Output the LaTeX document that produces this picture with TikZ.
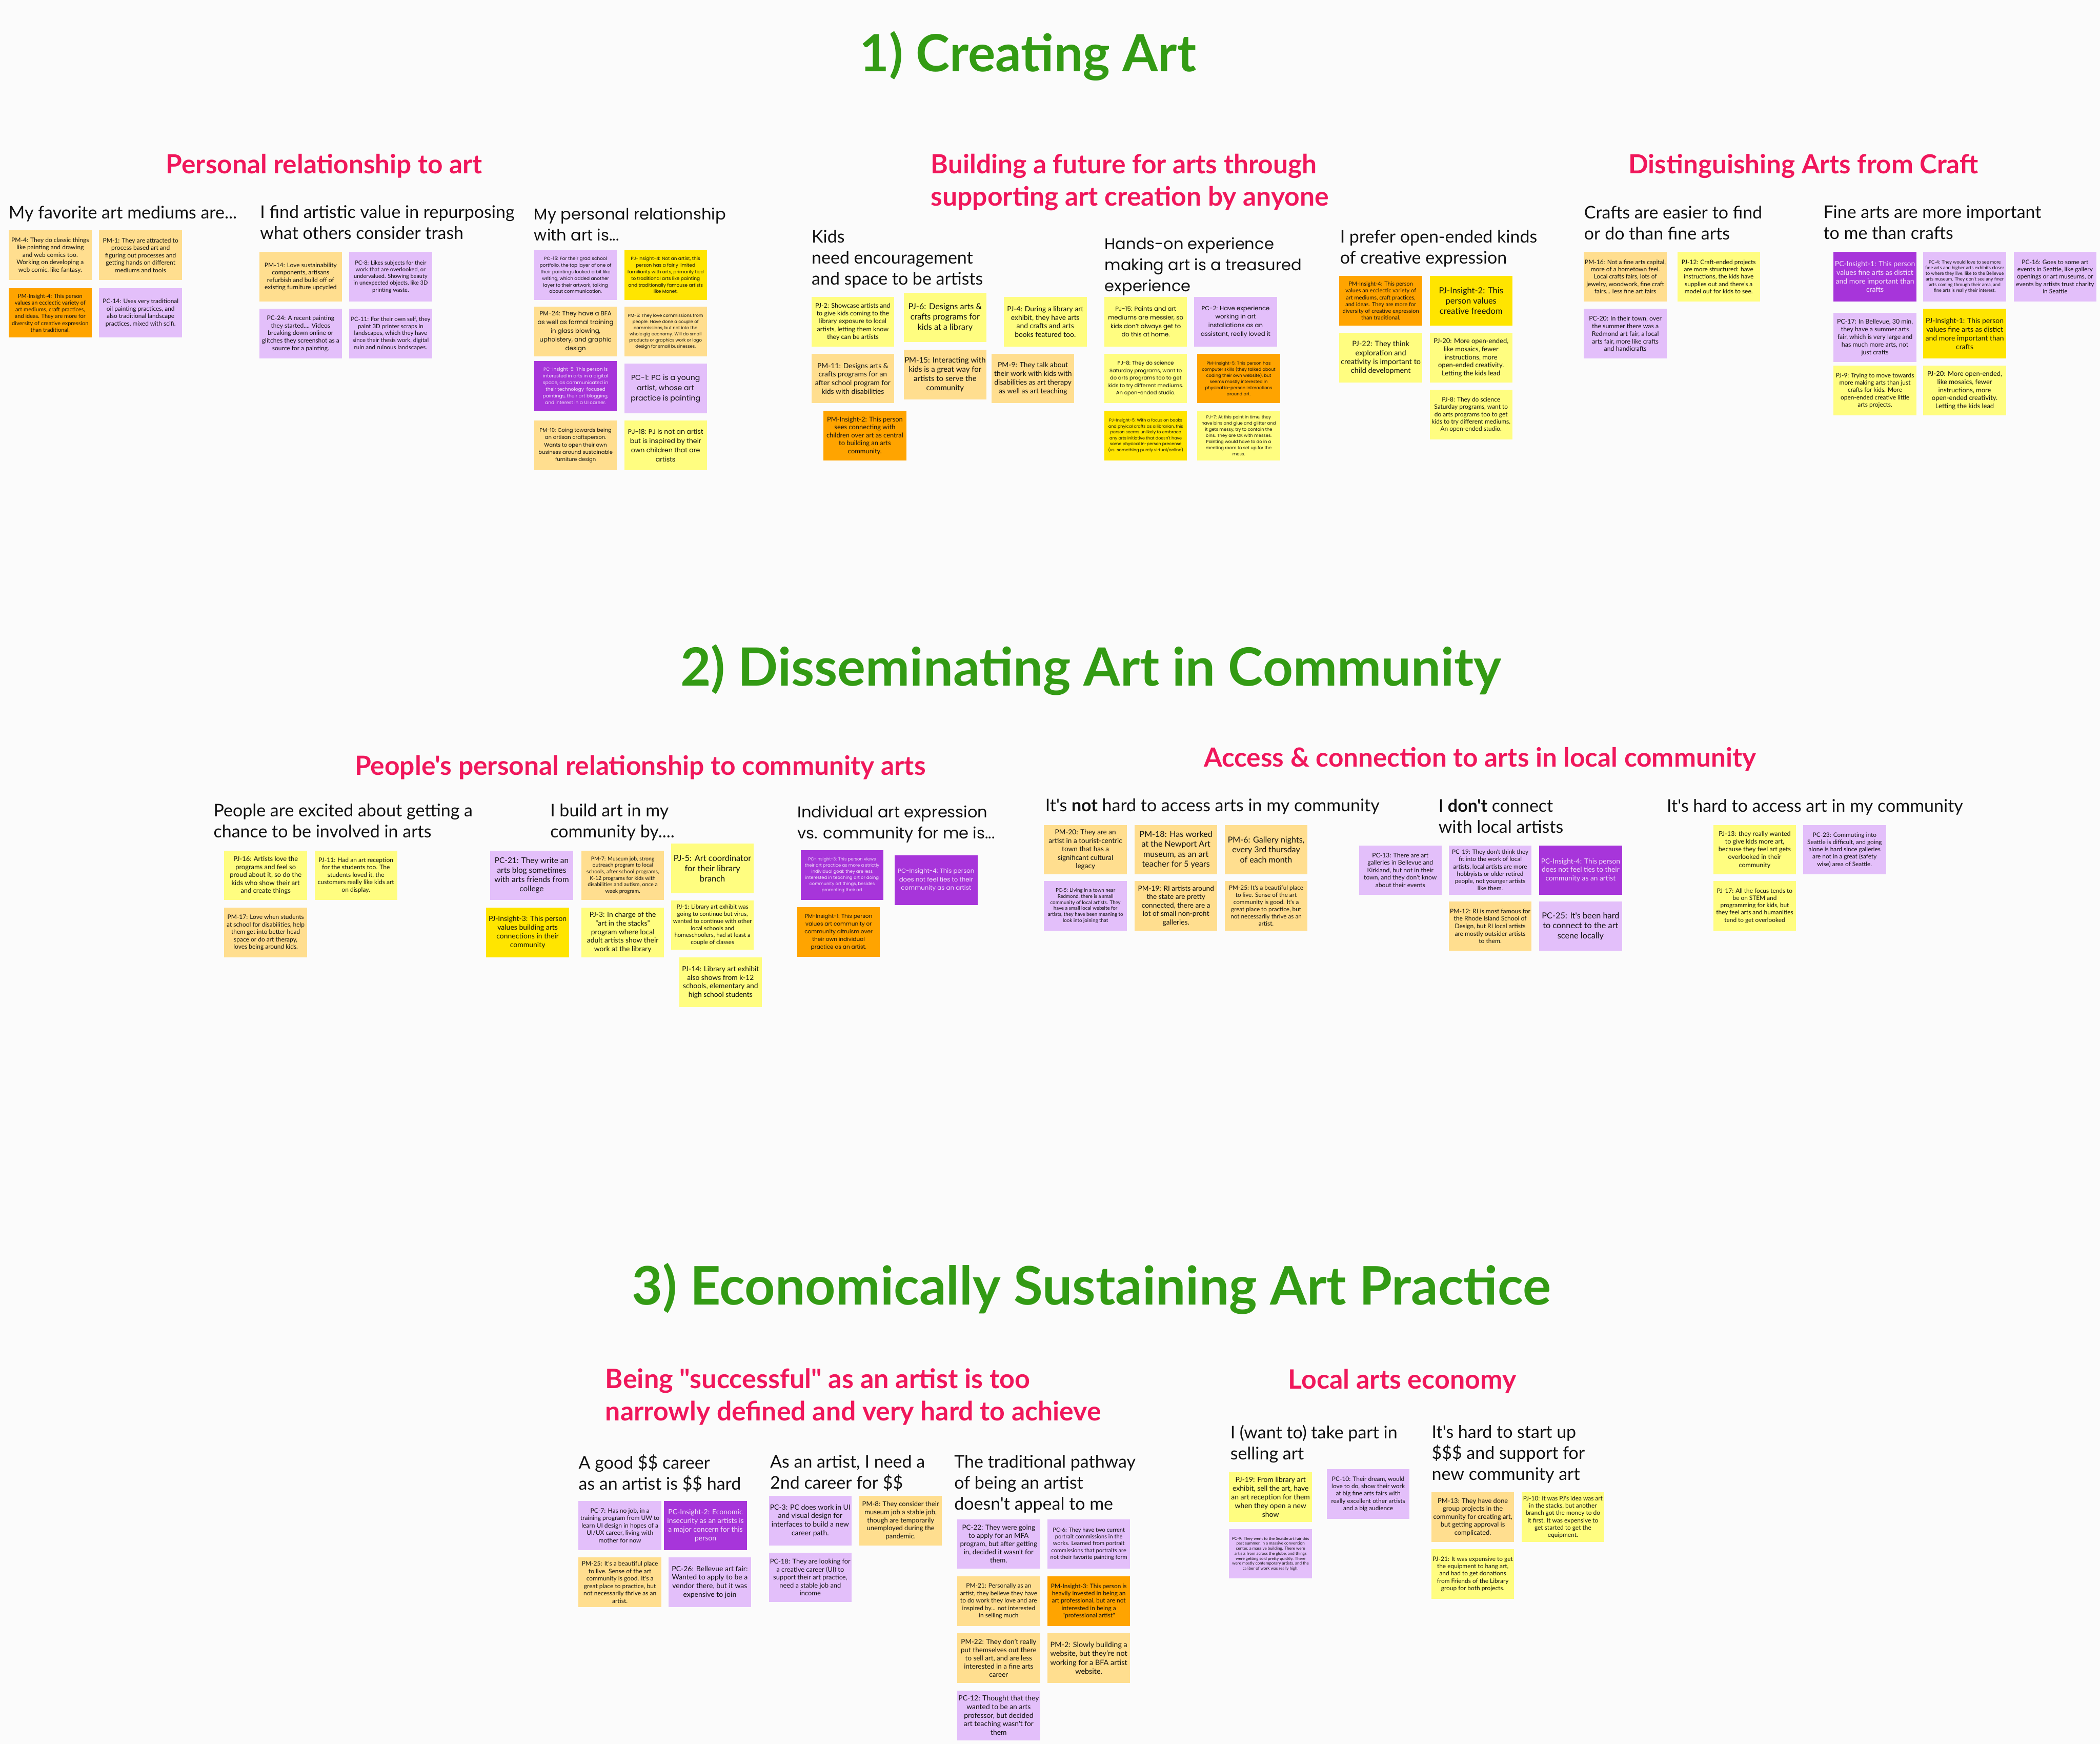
\documentclass[tikz,border=0pt]{standalone}
\usepackage{fontspec}
\usepackage{graphicx}
\setmainfont{Lato}[Ligatures=TeXOff]
\newfontfamily\poppins{Poppins}[Ligatures=TeXOff]
\definecolor{cbg}{HTML}{FBFBFB}
\definecolor{cpm}{HTML}{FFDE8F}
\definecolor{cpj}{HTML}{FFFD80}
\definecolor{cpc}{HTML}{E3BFFA}
\definecolor{cpmi}{HTML}{FFA400}
\definecolor{cpji}{HTML}{FFE500}
\definecolor{cpci}{HTML}{A735DA}
\definecolor{cptxt}{HTML}{F3E3FA}
\definecolor{cgreen}{HTML}{339B14}
\definecolor{cred}{HTML}{F0175B}
\definecolor{ctxt}{HTML}{111111}
\newcommand{\fl}[1]{\fontsize{\dimexpr #1mm*83/100\relax}{#1mm}\selectfont}
\newcommand{\fpp}[1]{\poppins\fontsize{\dimexpr #1mm*70/100\relax}{#1mm}\selectfont}
\tikzset{
  stk/.style={anchor=north west, minimum width=61.8mm, minimum height=37mm, inner sep=0.4mm, align=center, text=ctxt},
  pm/.style={stk, fill=cpm},
  pj/.style={stk, fill=cpj},
  pc/.style={stk, fill=cpc},
  pmi/.style={stk, fill=cpmi},
  pji/.style={stk, fill=cpji},
  pci/.style={stk, fill=cpci, text=cptxt},
  hd/.style={anchor=north west, inner sep=0, align=left, text=ctxt, font=\fontsize{13mm}{15.7mm}\selectfont},
  hdp/.style={anchor=north west, inner sep=0, align=left, text=ctxt, font=\poppins\fontsize{11.7mm}{15.7mm}\selectfont},
  ttl/.style={inner sep=0, text=cgreen, font=\bfseries},
  subt/.style={inner sep=0, text=cred, font=\bfseries}
}
\begin{document}
\begin{tikzpicture}[x=1mm, y=-1mm]
\fill[cbg] (0,0) rectangle (1568,1301.8);
\useasboundingbox (0,0) rectangle (1568,1301.8);

% ---------------- Titles ----------------
\node[ttl] (T1) at (767.5,42) {\resizebox{251mm}{!}{1) Creating Art}};
\node[ttl] (T2) at (814.5,500) {\resizebox{613mm}{!}{2) Disseminating Art in Community}};
\node[ttl] (T3) at (815,962) {\resizebox{686mm}{!}{3) Economically Sustaining Art Practice}};

% ---------------- Subtitles ----------------
\node[subt] (S1) at (242,124) {\resizebox{236mm}{!}{Personal relationship to art}};
\node[subt, anchor=west] (S2a) at (695,124) {\resizebox{288mm}{!}{Building a future for arts through}};
\node[subt, anchor=west] (S2b) at (695,148) {\resizebox{297mm}{!}{supporting art creation by anyone}};
\node[subt] (S3) at (1346.5,124) {\resizebox{261mm}{!}{Distinguishing Arts from Craft}};
\node[subt] (S4) at (478,573) {\resizebox{426mm}{!}{People's personal relationship to community arts}};
\node[subt] (S5) at (1105,567) {\resizebox{412mm}{!}{Access \& connection to arts in local community}};
\node[subt, anchor=west] (S6a) at (452,1031) {\resizebox{317mm}{!}{Being "successful" as an artist is too}};
\node[subt, anchor=west] (S6b) at (452,1055) {\resizebox{370mm}{!}{narrowly defined and very hard to achieve}};
\node[subt] (S7) at (1047,1031) {\resizebox{170mm}{!}{Local arts economy}};

% ---------------- Headings ----------------
\node[hd] (H1) at (6.4,153.8) {My favorite art mediums are...};
\node[hd] (H2) at (194.2,153.4) {I find artistic value in repurposing\\what others consider trash};
\node[hdp] (H3) at (398.8,155) {My personal relationship\\with art is...};
\node[hd] (H4) at (606,171.5) {Kids\\need encouragement\\and space to be artists};
\node[hdp] (H5) at (824.8,177.1) {Hands-on experience\\making art is a treasured\\experience};
\node[hd] (H6) at (1000.5,171.5) {I prefer open-ended kinds\\of creative expression};
\node[hd] (H7) at (1182.8,153.5) {Crafts are easier to find\\or do than fine arts};
\node[hd] (H8) at (1361.4,153.5) {Fine arts are more important\\to me than crafts};
\node[hd] (H9) at (159.4,599.8) {People are excited about getting a\\chance to be involved in arts};
\node[hd] (H10) at (410.8,599.8) {I build art in my\\community by....};
\node[hdp] (H11) at (595.4,601.3) {Individual art expression\\vs. community for me is...};
\node[hd] (H12) at (780.4,596.2) {It's \textbf{not} hard to access arts in my community};
\node[hd] (H13) at (1074,596.5) {I \textbf{don't} connect\\with local artists};
\node[hd] (H14) at (1244.5,596.5) {It's hard to access art in my community};
\node[hd] (H15) at (432,1086) {A good \$\$ career\\as an artist is \$\$ hard};
\node[hd] (H16) at (575,1086) {As an artist, I need a\\2nd career for \$\$};
\node[hd] (H17) at (712.5,1086) {The traditional pathway\\of being an artist\\doesn't appeal to me};
\node[hd] (H18) at (918.6,1063.9) {I (want to) take part in\\selling art};
\node[hd] (H19) at (1069,1063.9) {It's hard to start up\\\$\$\$ and support for\\new community art};

% ---------------- Section 1 notes ----------------
\node[pm, font=\fl{5.54}] (n101) at (6.5,172) {PM-4: They do classic things\\like painting and drawing\\and web comics too.\\Working on developing a\\web comic, like fantasy.};
\node[pm, font=\fl{5.54}] (n102) at (74,172) {PM-1: They are attracted to\\process based art and\\figuring out processes and\\getting hands on different\\mediums and tools};
\node[pmi, font=\fl{5.07}] (n103) at (6.5,215) {PM-Insight-4: This person\\values an ecclectic variety of\\art mediums, craft practices,\\and ideas. They are more for\\diversity of creative expression\\than traditional.};
\node[pc, font=\fl{5.5}] (n104) at (74,215) {PC-14: Uses very traditional\\oil painting practices, and\\also traditional landscape\\practices, mixed with scifi.};
\node[pm, font=\fl{5.56}] (n105) at (193.5,188) {PM-14:  Love sustainability\\components, artisans\\refurbish and build off of\\existing furniture upcycled};
\node[pc, font=\fl{5.07}] (n106) at (260.7,188) {PC-8: Likes subjects for their\\work that are overlooked, or\\undervalued. Showing beauty\\in unexpected objects, like 3D\\printing waste.};
\node[pc, font=\fl{5.56}] (n107) at (193.5,230.5) {PC-24: A recent painting\\they started.... Videos\\breaking down online or\\glitches they screenshot as a\\source for a painting.};
\node[pc, font=\fl{5.3}] (n108) at (260.7,230.5) {PC-11: For their own self, they\\paint 3D printer scraps in\\landscapes, which they have\\since their thesis work, digital\\ruin and ruinous landscapes.};

\node[pc, font=\fpp{4.9}] (n109) at (398.8,186.8) {PC-15: For their grad school\\portfolio, the top layer of one of\\their paintings looked a bit like\\writing, which added another\\layer to their artwork, talking\\about communication.};
\node[pji, font=\fpp{4.9}] (n110) at (466,186.8) {PJ-Insight-4: Not an artist, this\\person has a fairly limited\\familiarity with arts, primarily tied\\to traditional arts like painting\\and traditionally famouse artists\\like Monet.};
\node[pm, font=\fpp{6.45}] (n111) at (398.8,229) {PM-24: They have a BFA\\as well as formal training\\in glass blowing,\\upholstery, and graphic\\design};
\node[pm, font=\fpp{4.6}] (n112) at (466,229) {PM-5: They love commissions from\\people. Have done a couple of\\commissions, but not into the\\whole gig economy. Will do small\\products or graphics work or logo\\design for small businesses.};
\node[pci, font=\fpp{5.0}] (n113) at (398.8,269.5) {PC-Insight-5: This person is\\interested in arts in a digital\\space, as communicated in\\their technology-focused\\paintings, their art blogging,\\and interest in a UI career.};
\node[pc, font=\fpp{7.7}] (n114) at (466,271.5) {PC-1: PC is a young\\artist, whose art\\practice is painting};
\node[pm, font=\fpp{5.5}] (n115) at (398.8,314) {PM-10: Going towards being\\an artisan craftsperson.\\Wants to open their own\\business around sustainable\\furniture design};
\node[pj, font=\fpp{6.9}] (n116) at (466,314) {PJ-18: PJ is not an artist\\but is inspired by their\\own children that are\\artists};

\node[pj, font=\fl{5.78}] (n117) at (605.8,221.6) {PJ-2: Showcase artists and\\to give kids coming to the\\library exposure to local\\artists, letting them know\\they can be artists};
\node[pj, font=\fl{7.5}] (n118) at (674.7,218.4) {PJ-6: Designs arts \&\\crafts programs for\\kids at a library};
\node[pj, font=\fl{6.4}] (n119) at (749.5,221.6) {PJ-4: During a library art\\exhibit, they have arts\\and crafts and arts\\books featured too.};
\node[pm, font=\fl{6.4}] (n120) at (605.8,264) {PM-11: Designs arts \&\\crafts programs for an\\after school program for\\kids with disabilities};
\node[pm, font=\fl{6.9}] (n121) at (674.7,261) {PM-15: Interacting with\\kids is a great way for\\artists to serve the\\community};
\node[pm, font=\fl{6.4}] (n122) at (740.3,264) {PM-9: They talk about\\their work with kids with\\disabilities as art therapy\\as well as art teaching};
\node[pmi, font=\fl{5.95}] (n123) at (614.8,306.7) {PM-Insight-2: This person\\sees connecting with\\children over art as central\\to building an arts\\community.};

\node[pj, font=\fpp{6.4}] (n124) at (824.5,221.6) {PJ-15: Paints and art\\mediums are messier, so\\kids don’t always get to\\do this at home.};
\node[pc, font=\fpp{6.4}] (n125) at (891.6,221.6) {PC-2: Have experience\\working in art\\installations as an\\assistant, really loved it};
\node[pj, font=\fpp{5.5}] (n126) at (824.5,264) {PJ-8: They do science\\Saturday programs, want to\\do arts programs too to get\\kids to try different mediums.\\An open-ended studio.};
\node[pmi, font=\fpp{4.6}] (n127) at (893.9,264) {PM-Insight-5: This person has\\computer skills (they talked about\\coding their own website), but\\seems mostly interested in\\physical in-person interactions\\around art.};
\node[pji, font=\fpp{4.4}] (n128) at (824.5,306.7) {PJ-Insight-5: With a focus on books\\and phyical crafts as a librarian, this\\person seems unlikely to embrace\\any arts initiative that doesn't have\\some physical in-person precense\\(vs. something purely virtual/online)};
\node[pj, font=\fpp{4.6}] (n129) at (893.9,306.7) {PJ-7: At this point in time, they\\have bins and glue and glitter and\\it gets messy, try to contain the\\bins. They are OK with messes.\\Painting would have to do in a\\meeting room to set up for the\\mess.};

\node[pmi, font=\fl{5.06}] (n130) at (1000,206) {PM-Insight-4: This person\\values an ecclectic variety of\\art mediums, craft practices,\\and ideas. They are more for\\diversity of creative expression\\than traditional.};
\node[pji, font=\fl{7.6}] (n131) at (1067.4,206) {PJ-Insight-2: This\\person values\\creative freedom};
\node[pj, font=\fl{6.67}] (n132) at (1000,248.5) {PJ-22: They think\\exploration and\\creativity is important to\\child development};
\node[pj, font=\fl{6.0}] (n133) at (1067.4,248.5) {PJ-20: More open-ended,\\like mosaics, fewer\\instructions, more\\open-ended creativity.\\Letting the kids lead};
\node[pj, font=\fl{5.5}] (n134) at (1067.4,291) {PJ-8: They do science\\Saturday programs, want to\\do arts programs too to get\\kids to try different mediums.\\An open-ended studio.};

\node[pm, font=\fl{5.5}] (n135) at (1182.6,188) {PM-16: Not a fine arts capital,\\more of a hometown feel.\\Local crafts fairs, lots of\\jewelry, woodwork, fine craft\\fairs... less fine art fairs};
\node[pj, font=\fl{5.5}] (n136) at (1252.3,188) {PJ-12: Craft-ended projects\\are more structured: have\\instructions, the kids have\\supplies out and there’s a\\model out for kids to see.};
\node[pc, font=\fl{5.7}] (n137) at (1182.6,230.5) {PC-20: In their town, over\\the summer there was a\\Redmond art fair, a local\\arts fair, more like crafts\\and handicrafts};
\node[pci, font=\fl{6.45}] (n138) at (1369,188) {PC-Insight-1: This person\\values fine arts as distict\\and more important than\\crafts};
\node[pc, font=\fl{4.2}] (n139) at (1436,188) {PC-4: They would love to see more\\fine arts and higher arts exhibits closer\\to where they live, like to the Bellevue\\arts museum. They don't see any finer\\arts coming through their area, and\\fine arts is really their interest.};
\node[pc, font=\fl{5.5}] (n140) at (1503.5,188) {PC-16: Goes to some art\\events in Seattle, like gallery\\openings or art museums, or\\events by artists trust charity\\in Seattle};
\node[pc, font=\fl{5.7}] (n141) at (1369,233.3) {PC-17: In Bellevue, 30 min,\\they have a summer arts\\fair, which is very large and\\has much more arts, not\\just crafts};
\node[pji, font=\fl{6.45}] (n142) at (1436,230.5) {PJ-Insight-1: This person\\values fine arts as distict\\and more important than\\crafts};
\node[pj, font=\fl{5.5}] (n143) at (1369,273) {PJ-9: Trying to move towards\\more making arts than just\\crafts for kids. More\\open-ended creative little\\arts projects.};
\node[pj, font=\fl{6.0}] (n144) at (1436,273) {PJ-20: More open-ended,\\like mosaics, fewer\\instructions, more\\open-ended creativity.\\Letting the kids lead};

% ---------------- Section 2 notes ----------------
\node[pj, font=\fl{5.97}] (n201) at (167.4,634.9) {PJ-16: Artists love the\\programs and feel so\\proud about it, so do the\\kids who show their art\\and create things};
\node[pj, font=\fl{5.56}] (n202) at (234.8,634.9) {PJ-11: Had an art reception\\for the students too. The\\students loved it, the\\customers really like kids art\\on display.};
\node[pm, font=\fl{5.53}] (n203) at (167.4,677.5) {PM-17: Love when students\\at school for disabilities, help\\them get into better head\\space or do art therapy,\\loves being around kids.};
\node[pc, font=\fl{7.07}] (n204) at (366,634.9) {PC-21: They write an\\arts blog sometimes\\with arts friends from\\college};
\node[pm, font=\fl{4.84}] (n205) at (434,634.9) {PM-7: Museum job, strong\\outreach program to local\\schools, after school programs,\\K-12 programs for kids with\\disabilities and autism, once a\\week program.};
\node[pj, font=\fl{7.57}] (n206) at (501,629.7) {PJ-5: Art coordinator\\for their library\\branch};
\node[pji, font=\fl{6.46}] (n207) at (363,677.5) {PJ-Insight-3: This person\\values building arts\\connections in their\\community};
\node[pj, font=\fl{6.39}] (n208) at (434,677.5) {PJ-3: In charge of the\\“art in the stacks”\\program where local\\adult artists show their\\work at the library};
\node[pj, font=\fl{5.3}] (n209) at (501,672) {PJ-1: Library art exhibit was\\going to continue but virus,\\wanted to continue with other\\local schools and\\homeschoolers, had at least a\\couple of classes};
\node[pj, font=\fl{6.4}] (n210) at (507,714.8) {PJ-14: Library art exhibit\\also shows from k-12\\schools, elementary and\\high school students};

\node[pci, font=\fpp{4.6}] (n211) at (597.8,634.6) {PC-Insight-3: This person views\\their art practice as more a strictly\\individual goal: they are less\\interested in teaching art or doing\\community art things, besides\\promoting their art};
\node[pci, font=\fpp{6.44}] (n212) at (668,638.4) {PC-Insight-4: This person\\does not feel ties to their\\community as an artist};
\node[pmi, font=\fpp{5.77}] (n213) at (595.2,677.3) {PM-Insight-1: This person\\values art community or\\community altruism over\\their own individual\\practice as an artist.};

\node[pm, font=\fl{6.26}] (n214) at (779.5,615.7) {PM-20: They are an\\artist in a tourist-centric\\town that has a\\significant cultural\\legacy};
\node[pm, font=\fl{7.4}] (n215) at (847.1,615.7) {PM-18: Has worked\\at the Newport Art\\museum, as an art\\teacher for 5 years};
\node[pm, font=\fl{7.4}] (n216) at (914.4,615.7) {PM-6: Gallery nights,\\every 3rd thursday\\of each month};
\node[pc, font=\fl{4.5}] (n217) at (779.5,657.6) {PC-5:  Living in a town near\\Redmond, there is a small\\community of local artists. They\\have a small local website for\\artists, they have been meaning to\\look into joining that};
\node[pm, font=\fl{6.3}] (n218) at (847.1,657.6) {PM-19: RI artists around\\the state are pretty\\connected, there are a\\lot of small non-profit\\galleries.};
\node[pm, font=\fl{5.4}] (n219) at (914.4,657.6) {PM-25: It's a beautiful place\\to live. Sense of the art\\community is good. It's a\\great place to practice, but\\not necessarily thrive as an\\artist.};
\node[pc, font=\fl{5.6}] (n220) at (1014.6,631) {PC-13: There are art\\galleries in Bellevue and\\Kirkland, but not in their\\town, and they don't know\\about their events};
\node[pc, font=\fl{5.4}] (n221) at (1081.7,631) {PC-19: They don't think they\\fit into the work of local\\artists, local artists are more\\hobbyists or older retired\\people, not younger artists\\like them.};
\node[pci, font=\fl{6.35}] (n222) at (1149.2,631) {PC-Insight-4: This person\\does not feel ties to their\\community as an artist};
\node[pm, font=\fl{5.6}] (n223) at (1081.7,672.8) {PM-12: RI is most famous for\\the Rhode Island School of\\Design, but RI local artists\\are mostly outsider artists\\to them.};
\node[pc, font=\fl{7.5}] (n224) at (1149.2,672.8) {PC-25: It's been hard\\to connect to the art\\scene locally};
\node[pj, font=\fl{5.8}] (n225) at (1279.2,615.8) {PJ-13:  they really wanted\\to give kids more art,\\because they feel art gets\\overlooked in their\\community};
\node[pc, font=\fl{5.47}] (n226) at (1346.3,615.8) {PC-23:  Commuting into\\Seattle is difficult, and going\\alone is hard since galleries\\are not in a great (safety\\wise) area of Seattle.};
\node[pj, font=\fl{5.47}] (n227) at (1279.2,657.6) {PJ-17: All the focus tends to\\be on STEM and\\programming for kids, but\\they feel arts and humanities\\tend to get overlooked};

% ---------------- Section 3 notes ----------------
\node[pc, font=\fl{5.56}] (n301) at (431.9,1120.3) {PC-7: Has no job, in a\\training program from UW to\\learn UI design in hopes of a\\UI/UX career, living with\\mother for now};
\node[pci, font=\fl{6.46}] (n302) at (495.8,1120.3) {PC-Insight-2: Economic\\insecurity as an artists is\\a major concern for this\\person};
\node[pm, font=\fl{5.54}] (n303) at (431.9,1162.6) {PM-25: It's a beautiful place\\to live. Sense of the art\\community is good. It's a\\great place to practice, but\\not necessarily thrive as an\\artist.};
\node[pc, font=\fl{6.46}] (n304) at (499,1162.6) {PC-26: Bellevue art fair:\\Wanted to apply to be a\\vendor there, but it was\\expensive to join};
\node[pc, font=\fl{6.46}] (n305) at (574,1116.6) {PC-3: PC does work in UI\\and visual design for\\interfaces to build a new\\career path.};
\node[pm, font=\fl{6.0}] (n306) at (641.5,1116.6) {PM-8: They consider their\\museum job a stable job,\\though are temporarily\\unemployed during the\\pandemic.};
\node[pc, font=\fl{5.96}] (n307) at (574,1159) {PC-18: They are looking for\\a creative career (UI) to\\support their art practice,\\need a stable job and\\income};
\node[pc, font=\fl{6.17}] (n308) at (714.7,1134) {PC-22: They were going\\to apply for an MFA\\program, but after getting\\in, decided it wasn't for\\them.};
\node[pc, font=\fl{5.1}] (n309) at (782,1134) {PC-6: They have two current\\portrait commissions in the\\works. Learned from portrait\\commissions that portraits are\\not their favorite painting form};
\node[pm, font=\fl{5.5}] (n310) at (714.7,1176.7) {PM-21: Personally as an\\artist, they believe they have\\to do work they love and are\\inspired by... not interested\\in selling much};
\node[pmi, font=\fl{5.5}] (n311) at (782,1176.7) {PM-Insight-3: This person is\\heavily invested in being an\\art professional, but are not\\interested in being a\\"professional artist"};
\node[pm, font=\fl{6.2}] (n312) at (714.7,1219.2) {PM-22: They don’t really\\put themselves out there\\to sell art, and are less\\interested in a fine arts\\career};
\node[pm, font=\fl{6.65}] (n313) at (782,1219.2) {PM-2: Slowly building a\\website, but they’re not\\working for a BFA artist\\website.};
\node[pc, font=\fl{6.4}] (n314) at (714.7,1262) {PC-12: Thought that they\\wanted to be an arts\\professor, but decided\\art teaching wasn't for\\them};

\node[pj, font=\fl{6.44}] (n315) at (917.7,1099) {PJ-19: From library art\\exhibit, sell the art, have\\an art reception for them\\when they open a new\\show};
\node[pc, font=\fl{5.5}] (n316) at (990.6,1096.8) {PC-10: Their dream, would\\love to do, show their work\\at big fine arts fairs with\\really excellent other artists\\and a big audience};
\node[pc, font=\fl{3.72}] (n317) at (917.7,1141.4) {PC-9: They went to the Seattle art fair this\\past summer, in a massive convention\\center, a massive building. There were\\artists from across the globe, and things\\were getting sold pretty quickly. There\\were mostly contemporary artists, and the\\caliber of work was really high.};
\node[pm, font=\fl{5.96}] (n318) at (1068.7,1114) {PM-13: They have done\\group projects in the\\community for creating art,\\but getting approval is\\complicated.};
\node[pj, font=\fl{5.5}] (n319) at (1136,1114) {PJ-10: It was PJ's idea was art\\in the stacks, but another\\branch got the money to do\\it first. It was expensive to\\get started to get the\\equipment.};
\node[pj, font=\fl{5.5}] (n320) at (1068.7,1156.5) {PJ-21: It was expensive to get\\the equipment to hang art,\\and had to get donations\\from Friends of the Library\\group for both projects.};
\end{tikzpicture}
\end{document}
